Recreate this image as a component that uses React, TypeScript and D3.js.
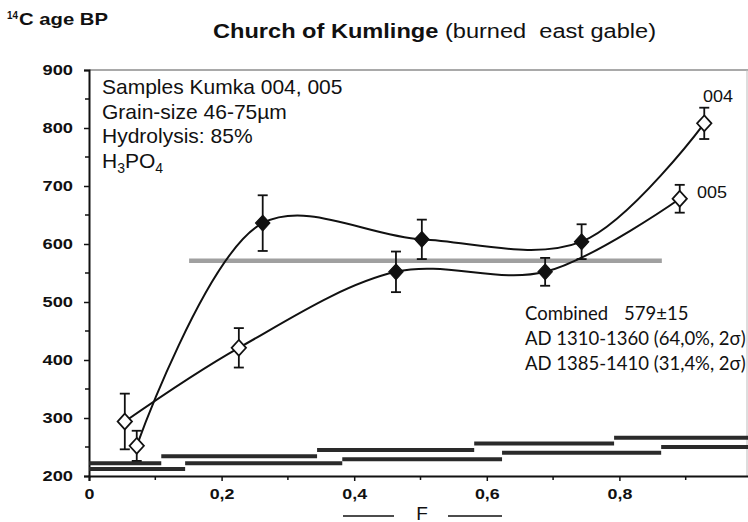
import * as d3 from "d3";
import { useEffect, useRef } from "react";

// sample 004
const f004 = [0.072, 0.262, 0.502, 0.743, 0.928];
const age004 = [252, 636, 608, 604, 808];
const err004 = [26, 48, 34, 30, 27];
const filled004 = [false, true, true, true, false];

// sample 005
const f005 = [0.054, 0.226, 0.463, 0.688, 0.891];
const age005 = [294, 421, 552, 552, 678];
const err005 = [48, 34, 35, 24, 24];
const filled005 = [false, false, true, true, false];

// combined age band
const combinedAge = 571;
const combinedF = [0.151, 0.864];

// calibration step bars along the bottom
const upperBreaks = [0, 0.109, 0.344, 0.581, 0.792, 1];
const upperAges = [222, 234, 245, 256, 266];
const lowerBreaks = [0, 0.145, 0.382, 0.623, 0.863, 1];
const lowerAges = [212, 222, 229, 240, 250];

const yTicks = [200, 300, 400, 500, 600, 700, 800, 900];
const xTicks = [0, 0.2, 0.4, 0.6, 0.8, 1];

const infoLines = ["Samples Kumka 004, 005", "Grain-size 46-75µm", "Hydrolysis: 85%"];
const resultLines = ["AD 1310-1360 (64,0%, 2σ)", "AD 1385-1410 (31,4%, 2σ)"];

const W = 748;
const H = 522;

export default function App() {
    const ref = useRef<SVGSVGElement | null>(null);

    useEffect(() => {
        if (!ref.current) return;
        const svg = d3.select(ref.current);
        svg.selectAll("*").remove();

        const x = d3.scaleLinear().domain([0, 1]).range([89, 752]);
        const y = d3.scaleLinear().domain([200, 900]).range([476, 70]);
        const arial = "'Liberation Sans', Arial, sans-serif";
        const calibri = "Lato, 'Open Sans', sans-serif";

        // the scan is a bit wider than tall, so stretch tick labels sideways
        const stretch = (sel: d3.Selection<any, any, any, any>, k: number) => {
            sel.each(function () {
                const n = this as SVGTextElement;
                n.setAttribute("textLength", String(n.getComputedTextLength() * k));
                n.setAttribute("lengthAdjust", "spacingAndGlyphs");
            });
        };

        svg.append("rect").attr("width", W).attr("height", H).attr("fill", "#fff");

        // frame top + right
        svg.append("line")
            .attr("x1", x(0)).attr("x2", W).attr("y1", y(900)).attr("y2", y(900))
            .attr("stroke", "#555").attr("stroke-width", 1.2);
        svg.append("line")
            .attr("x1", W - 1).attr("x2", W - 1).attr("y1", y(900)).attr("y2", y(200))
            .attr("stroke", "#bbb").attr("stroke-width", 1);

        // y axis
        const yAxis = svg.append("g").attr("transform", `translate(${x(0)},0)`)
            .call(d3.axisLeft(y).tickValues(yTicks).tickSize(5).tickPadding(11).tickFormat(d3.format("d")));
        yAxis.select(".domain").attr("stroke", "#111").attr("stroke-width", 2);
        yAxis.selectAll(".tick line").attr("stroke", "#111").attr("stroke-width", 1.5);
        const yLabels = yAxis.selectAll("text")
            .attr("font-family", arial).attr("font-weight", "bold").attr("font-size", 15.5).attr("fill", "#111");
        stretch(yLabels, 1.18);
        d3.range(250, 900, 100).forEach(v => {
            svg.append("line")
                .attr("x1", x(0) - 4).attr("x2", x(0)).attr("y1", y(v)).attr("y2", y(v))
                .attr("stroke", "#111").attr("stroke-width", 1.5);
        });

        // x axis
        const xAxis = svg.append("g").attr("transform", `translate(0,${y(200)})`)
            .call(d3.axisBottom(x).tickValues(xTicks).tickSize(5).tickPadding(7)
                .tickFormat(d => (+d === 0 || +d === 1 ? String(d) : (+d).toFixed(1).replace(".", ","))));
        xAxis.select(".domain").attr("stroke", "#111").attr("stroke-width", 2);
        xAxis.selectAll(".tick line").attr("stroke", "#111").attr("stroke-width", 1.5);
        const xLabels = xAxis.selectAll("text")
            .attr("font-family", arial).attr("font-weight", "bold").attr("font-size", 15.5).attr("fill", "#111");
        stretch(xLabels, 1.15);
        d3.range(0.1, 1, 0.2).forEach(v => {
            svg.append("line")
                .attr("x1", x(v)).attr("x2", x(v)).attr("y1", y(200)).attr("y2", y(200) + 4)
                .attr("stroke", "#111").attr("stroke-width", 1.5);
        });

        // step bars
        const steps = (breaks: number[], ages: number[]) => {
            ages.forEach((a, i) => {
                svg.append("line")
                    .attr("x1", x(breaks[i])).attr("x2", x(breaks[i + 1]))
                    .attr("y1", y(a)).attr("y2", y(a))
                    .attr("stroke", "#2a2a2a").attr("stroke-width", 4);
            });
        };
        steps(upperBreaks, upperAges);
        steps(lowerBreaks, lowerAges);

        // combined band
        svg.append("line")
            .attr("x1", x(combinedF[0])).attr("x2", x(combinedF[1]))
            .attr("y1", y(combinedAge)).attr("y2", y(combinedAge))
            .attr("stroke", "#a0a0a0").attr("stroke-width", 4.5);

        const line = d3.line<[number, number]>()
            .x(d => x(d[0])).y(d => y(d[1]))
            .curve(d3.curveCatmullRom.alpha(0.5));

        const diamond = d3.symbol().type(d3.symbolDiamond2).size(120);

        const series = (fs: number[], ages: number[], errs: number[], filled: boolean[]) => {
            svg.append("path")
                .attr("d", line(fs.map((f, i) => [f, ages[i]] as [number, number]))!)
                .attr("fill", "none").attr("stroke", "#111").attr("stroke-width", 2);
            fs.forEach((f, i) => {
                const cx = x(f);
                const g = svg.append("g").attr("stroke", "#111").attr("stroke-width", 1.8);
                g.append("line").attr("x1", cx).attr("x2", cx)
                    .attr("y1", y(ages[i] + errs[i])).attr("y2", y(ages[i] - errs[i]));
                [ages[i] + errs[i], ages[i] - errs[i]].forEach(v => {
                    g.append("line").attr("x1", cx - 5).attr("x2", cx + 5).attr("y1", y(v)).attr("y2", y(v));
                });
                g.append("path")
                    .attr("d", diamond()!)
                    .attr("transform", `translate(${cx},${y(ages[i])}) scale(1.05,1.15)`)
                    .attr("fill", filled[i] ? "#111" : "#fff")
                    .attr("stroke-width", filled[i] ? 1 : 1.6);
            });
        };
        series(f004, age004, err004, filled004);
        series(f005, age005, err005, filled005);

        // series labels
        svg.append("text").attr("x", 703).attr("y", 102)
            .attr("font-family", arial).attr("font-size", 17).attr("fill", "#111")
            .attr("textLength", 30).attr("lengthAdjust", "spacingAndGlyphs").text("004");
        svg.append("text").attr("x", 697).attr("y", 198)
            .attr("font-family", arial).attr("font-size", 17).attr("fill", "#111")
            .attr("textLength", 30).attr("lengthAdjust", "spacingAndGlyphs").text("005");

        // title
        const title = svg.append("text").attr("x", 213).attr("y", 38)
            .attr("font-family", arial).attr("font-size", 20).attr("fill", "#111")
            .attr("textLength", 443).attr("lengthAdjust", "spacingAndGlyphs")
            .style("white-space", "pre");
        title.append("tspan").attr("font-weight", "bold").text("Church of Kumlinge");
        title.append("tspan").text(" (burned  east gable)");

        // y label
        const yl = svg.append("text").attr("x", 7).attr("y", 25)
            .attr("font-family", arial).attr("font-weight", "bold").attr("fill", "#111");
        yl.append("tspan").attr("font-size", 11).attr("dy", -6)
            .attr("textLength", 11).attr("lengthAdjust", "spacingAndGlyphs").text("14");
        yl.append("tspan").attr("font-size", 17).attr("dy", 6).attr("x", 19)
            .attr("textLength", 89).attr("lengthAdjust", "spacingAndGlyphs").text("C age BP");

        // info block
        infoLines.forEach((t, i) => {
            svg.append("text").attr("x", 102).attr("y", 94 + i * 24.5)
                .attr("font-family", arial).attr("font-size", 21).attr("fill", "#111").text(t);
        });
        const h3 = svg.append("text").attr("x", 102).attr("y", 94 + 3 * 24.5)
            .attr("font-family", arial).attr("font-size", 21).attr("fill", "#111");
        h3.append("tspan").text("H");
        h3.append("tspan").attr("font-size", 14).attr("dy", 5).text("3");
        h3.append("tspan").attr("dy", -5).text("PO");
        h3.append("tspan").attr("font-size", 14).attr("dy", 5).text("4");

        // results block
        const comb = svg.append("text").attr("x", 525).attr("y", 320)
            .attr("font-family", calibri).attr("font-size", 18.5).attr("fill", "#111");
        comb.append("tspan").text("Combined");
        comb.append("tspan").attr("x", 624).text("579±15");
        resultLines.forEach((t, i) => {
            svg.append("text").attr("x", 525).attr("y", 345 + i * 25)
                .attr("font-family", calibri).attr("font-size", 18.5).attr("fill", "#111").text(t);
        });

        // F axis title with side rules
        svg.append("text").attr("x", 422).attr("y", 520).attr("text-anchor", "middle")
            .attr("font-family", arial).attr("font-size", 19).attr("fill", "#111").text("F");
        [[343, 394], [448, 502]].forEach(([a, b]) => {
            svg.append("line").attr("x1", a).attr("x2", b).attr("y1", 516).attr("y2", 516)
                .attr("stroke", "#111").attr("stroke-width", 1.5);
        });
    }, []);

    return (
        <svg
            ref={ref}
            width={W}
            height={H}
            style={{ position: "absolute", left: 0, top: 0 }}
        />
    );
}
